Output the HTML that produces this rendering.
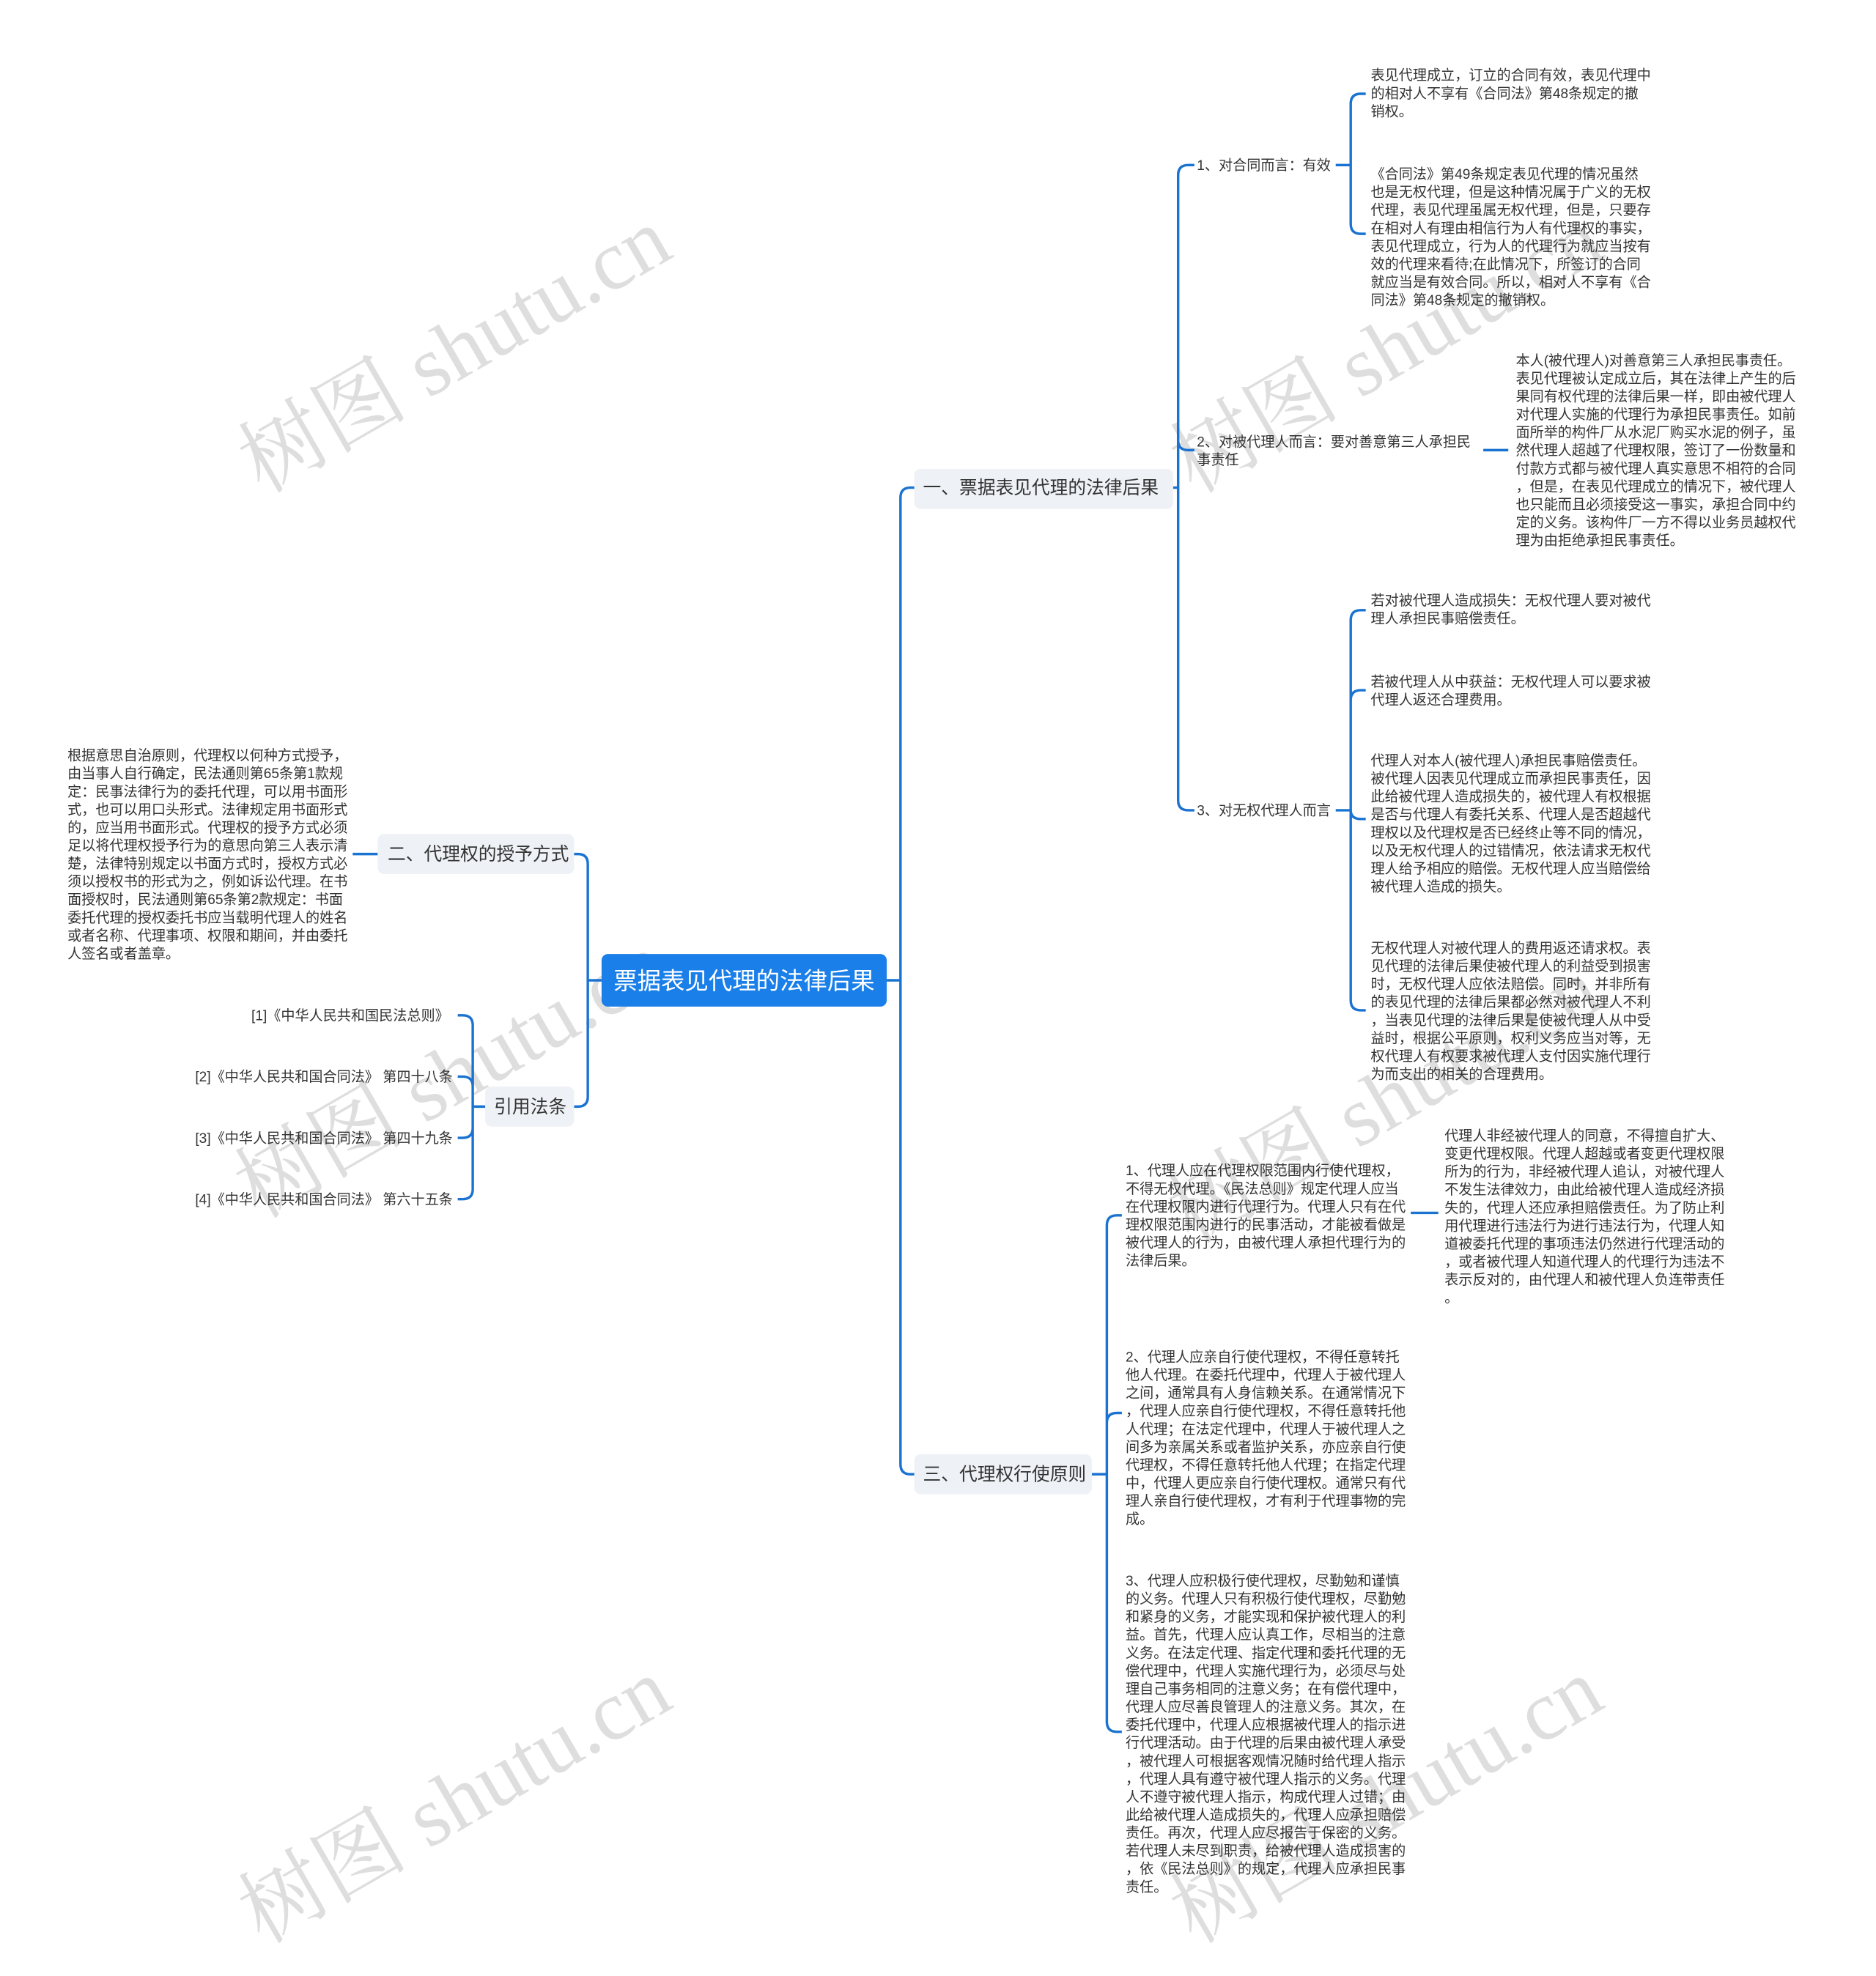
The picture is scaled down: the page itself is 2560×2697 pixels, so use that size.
<!DOCTYPE html>
<html><head><meta charset="utf-8"><style>
html,body{margin:0;padding:0;background:#fff;}
svg{display:block;}
text{font-family:"Liberation Sans","Noto Sans CJK SC",sans-serif;fill:#333;}
.l{font-size:11.2px;}
.wm{font-family:"Liberation Serif","Noto Serif CJK SC",serif;font-size:68px;fill:#d4d4d4;opacity:.75;}
path{fill:none;stroke:#1a73d1;stroke-width:2;}
</style></head><body>
<svg width="2560" height="2697" viewBox="0 0 1500 1580.3" preserveAspectRatio="none" xmlns="http://www.w3.org/2000/svg">
<rect width="1500" height="1581" fill="#fff"/>
<g>
<text class="wm" transform="translate(375,300) rotate(-30)" text-anchor="middle">树图 shutu.cn</text>
<text class="wm" transform="translate(1120,300) rotate(-30)" text-anchor="middle">树图 shutu.cn</text>
<text class="wm" transform="translate(372,880) rotate(-30)" text-anchor="middle">树图 shutu.cn</text>
<text class="wm" transform="translate(1118,900) rotate(-30)" text-anchor="middle">树图 shutu.cn</text>
<text class="wm" transform="translate(375,1460) rotate(-30)" text-anchor="middle">树图 shutu.cn</text>
<text class="wm" transform="translate(1120,1460) rotate(-30)" text-anchor="middle">树图 shutu.cn</text>
</g>
<path d="M709,784 H720 M720,784 V398 Q720,390 728,390 H737 M720,784 V1171 Q720,1179 728,1179 H737"/>
<path d="M481,784 H470 M470,784 V691 Q470,683 462,683 H459 M470,784 V877 Q470,885 462,885 H459"/>
<path d="M938,390 H942 M942,390 V140 Q942,132 950,132 H955 M942,390 V352 Q942,360 950,360 H955 M942,390 V640 Q942,648 950,648 H955"/>
<path d="M1068,132 H1080 M1080,132 V83 Q1080,75 1088,75 H1092 M1080,132 V179 Q1080,187 1088,187 H1092"/>
<path d="M1186,360 H1206"/>
<path d="M1068,648 H1080 M1080,648 V496 Q1080,488 1088,488 H1092 M1080,648 V560 Q1080,552 1088,552 H1092 M1080,648 Q1080,655 1088,655 H1092 M1080,648 V800 Q1080,808 1088,808 H1092"/>
<path d="M873,1179 H885 M885,1179 V980 Q885,972 893,972 H897 M885,1179 V1138 Q885,1130 893,1130 H897 M885,1179 V1377 Q885,1385 893,1385 H897"/>
<path d="M1128,970 H1150"/>
<path d="M302,683 H282"/>
<path d="M388,885 H378 M378,885 V820 Q378,812 370,812 H366 M378,885 V869 Q378,861 370,861 H366 M378,885 V902 Q378,910 370,910 H366 M378,885 V951 Q378,959 370,959 H366"/>
<rect x="481" y="763" width="228" height="42" rx="5" fill="#1a7fe8"/>
<text x="595" y="791" text-anchor="middle" style="font-size:19px;fill:#fff">票据表见代理的法律后果</text>
<rect x="731" y="375" width="207" height="32" rx="5" fill="#eef1f5"/>
<text x="738" y="395" style="font-size:14.5px">一、票据表见代理的法律后果</text>
<rect x="731" y="1163" width="142" height="32" rx="5" fill="#eef1f5"/>
<text x="738" y="1184" style="font-size:14.5px">三、代理权行使原则</text>
<rect x="302" y="667" width="157" height="32" rx="5" fill="#eef1f5"/>
<text x="310" y="688" style="font-size:14.5px">二、代理权的授予方式</text>
<rect x="388" y="869" width="71" height="32" rx="5" fill="#eef1f5"/>
<text x="395" y="890" style="font-size:14.5px">引用法条</text>
<text class="l" x="957" y="136">1、对合同而言：有效</text>
<text class="l" x="957" y="357">2、对被代理人而言：要对善意第三人承担民<tspan x="957" dy="14.4">事责任</tspan></text>
<text class="l" x="957" y="652">3、对无权代理人而言</text>
<text class="l" x="1096" y="64">表见代理成立，订立的合同有效，表见代理中<tspan x="1096" dy="14.4">的相对人不享有《合同法》第48条规定的撤</tspan><tspan x="1096" dy="14.4">销权。</tspan></text>
<text class="l" x="1096" y="143">《合同法》第49条规定表见代理的情况虽然<tspan x="1096" dy="14.4">也是无权代理，但是这种情况属于广义的无权</tspan><tspan x="1096" dy="14.4">代理，表见代理虽属无权代理，但是，只要存</tspan><tspan x="1096" dy="14.4">在相对人有理由相信行为人有代理权的事实，</tspan><tspan x="1096" dy="14.4">表见代理成立，行为人的代理行为就应当按有</tspan><tspan x="1096" dy="14.4">效的代理来看待;在此情况下，所签订的合同</tspan><tspan x="1096" dy="14.4">就应当是有效合同。所以，相对人不享有《合</tspan><tspan x="1096" dy="14.4">同法》第48条规定的撤销权。</tspan></text>
<text class="l" x="1212" y="292">本人(被代理人)对善意第三人承担民事责任。<tspan x="1212" dy="14.4">表见代理被认定成立后，其在法律上产生的后</tspan><tspan x="1212" dy="14.4">果同有权代理的法律后果一样，即由被代理人</tspan><tspan x="1212" dy="14.4">对代理人实施的代理行为承担民事责任。如前</tspan><tspan x="1212" dy="14.4">面所举的构件厂从水泥厂购买水泥的例子，虽</tspan><tspan x="1212" dy="14.4">然代理人超越了代理权限，签订了一份数量和</tspan><tspan x="1212" dy="14.4">付款方式都与被代理人真实意思不相符的合同</tspan><tspan x="1212" dy="14.4">，但是，在表见代理成立的情况下，被代理人</tspan><tspan x="1212" dy="14.4">也只能而且必须接受这一事实，承担合同中约</tspan><tspan x="1212" dy="14.4">定的义务。该构件厂一方不得以业务员越权代</tspan><tspan x="1212" dy="14.4">理为由拒绝承担民事责任。</tspan></text>
<text class="l" x="1096" y="484">若对被代理人造成损失：无权代理人要对被代<tspan x="1096" dy="14.4">理人承担民事赔偿责任。</tspan></text>
<text class="l" x="1096" y="549">若被代理人从中获益：无权代理人可以要求被<tspan x="1096" dy="14.4">代理人返还合理费用。</tspan></text>
<text class="l" x="1096" y="612">代理人对本人(被代理人)承担民事赔偿责任。<tspan x="1096" dy="14.4">被代理人因表见代理成立而承担民事责任，因</tspan><tspan x="1096" dy="14.4">此给被代理人造成损失的，被代理人有权根据</tspan><tspan x="1096" dy="14.4">是否与代理人有委托关系、代理人是否超越代</tspan><tspan x="1096" dy="14.4">理权以及代理权是否已经终止等不同的情况，</tspan><tspan x="1096" dy="14.4">以及无权代理人的过错情况，依法请求无权代</tspan><tspan x="1096" dy="14.4">理人给予相应的赔偿。无权代理人应当赔偿给</tspan><tspan x="1096" dy="14.4">被代理人造成的损失。</tspan></text>
<text class="l" x="1096" y="762">无权代理人对被代理人的费用返还请求权。表<tspan x="1096" dy="14.4">见代理的法律后果使被代理人的利益受到损害</tspan><tspan x="1096" dy="14.4">时，无权代理人应依法赔偿。同时，并非所有</tspan><tspan x="1096" dy="14.4">的表见代理的法律后果都必然对被代理人不利</tspan><tspan x="1096" dy="14.4">，当表见代理的法律后果是使被代理人从中受</tspan><tspan x="1096" dy="14.4">益时，根据公平原则，权利义务应当对等，无</tspan><tspan x="1096" dy="14.4">权代理人有权要求被代理人支付因实施代理行</tspan><tspan x="1096" dy="14.4">为而支出的相关的合理费用。</tspan></text>
<text class="l" x="900" y="940">1、代理人应在代理权限范围内行使代理权，<tspan x="900" dy="14.4">不得无权代理。《民法总则》规定代理人应当</tspan><tspan x="900" dy="14.4">在代理权限内进行代理行为。代理人只有在代</tspan><tspan x="900" dy="14.4">理权限范围内进行的民事活动，才能被看做是</tspan><tspan x="900" dy="14.4">被代理人的行为，由被代理人承担代理行为的</tspan><tspan x="900" dy="14.4">法律后果。</tspan></text>
<text class="l" x="1155" y="912">代理人非经被代理人的同意，不得擅自扩大、<tspan x="1155" dy="14.4">变更代理权限。代理人超越或者变更代理权限</tspan><tspan x="1155" dy="14.4">所为的行为，非经被代理人追认，对被代理人</tspan><tspan x="1155" dy="14.4">不发生法律效力，由此给被代理人造成经济损</tspan><tspan x="1155" dy="14.4">失的，代理人还应承担赔偿责任。为了防止利</tspan><tspan x="1155" dy="14.4">用代理进行违法行为进行违法行为，代理人知</tspan><tspan x="1155" dy="14.4">道被委托代理的事项违法仍然进行代理活动的</tspan><tspan x="1155" dy="14.4">，或者被代理人知道代理人的代理行为违法不</tspan><tspan x="1155" dy="14.4">表示反对的，由代理人和被代理人负连带责任</tspan><tspan x="1155" dy="14.4">。</tspan></text>
<text class="l" x="900" y="1089">2、代理人应亲自行使代理权，不得任意转托<tspan x="900" dy="14.4">他人代理。在委托代理中，代理人于被代理人</tspan><tspan x="900" dy="14.4">之间，通常具有人身信赖关系。在通常情况下</tspan><tspan x="900" dy="14.4">，代理人应亲自行使代理权，不得任意转托他</tspan><tspan x="900" dy="14.4">人代理；在法定代理中，代理人于被代理人之</tspan><tspan x="900" dy="14.4">间多为亲属关系或者监护关系，亦应亲自行使</tspan><tspan x="900" dy="14.4">代理权，不得任意转托他人代理；在指定代理</tspan><tspan x="900" dy="14.4">中，代理人更应亲自行使代理权。通常只有代</tspan><tspan x="900" dy="14.4">理人亲自行使代理权，才有利于代理事物的完</tspan><tspan x="900" dy="14.4">成。</tspan></text>
<text class="l" x="900" y="1268">3、代理人应积极行使代理权，尽勤勉和谨慎<tspan x="900" dy="14.4">的义务。代理人只有积极行使代理权，尽勤勉</tspan><tspan x="900" dy="14.4">和紧身的义务，才能实现和保护被代理人的利</tspan><tspan x="900" dy="14.4">益。首先，代理人应认真工作，尽相当的注意</tspan><tspan x="900" dy="14.4">义务。在法定代理、指定代理和委托代理的无</tspan><tspan x="900" dy="14.4">偿代理中，代理人实施代理行为，必须尽与处</tspan><tspan x="900" dy="14.4">理自己事务相同的注意义务；在有偿代理中，</tspan><tspan x="900" dy="14.4">代理人应尽善良管理人的注意义务。其次，在</tspan><tspan x="900" dy="14.4">委托代理中，代理人应根据被代理人的指示进</tspan><tspan x="900" dy="14.4">行代理活动。由于代理的后果由被代理人承受</tspan><tspan x="900" dy="14.4">，被代理人可根据客观情况随时给代理人指示</tspan><tspan x="900" dy="14.4">，代理人具有遵守被代理人指示的义务。代理</tspan><tspan x="900" dy="14.4">人不遵守被代理人指示，构成代理人过错；由</tspan><tspan x="900" dy="14.4">此给被代理人造成损失的，代理人应承担赔偿</tspan><tspan x="900" dy="14.4">责任。再次，代理人应尽报告于保密的义务。</tspan><tspan x="900" dy="14.4">若代理人未尽到职责，给被代理人造成损害的</tspan><tspan x="900" dy="14.4">，依《民法总则》的规定，代理人应承担民事</tspan><tspan x="900" dy="14.4">责任。</tspan></text>
<text class="l" x="54" y="608">根据意思自治原则，代理权以何种方式授予，<tspan x="54" dy="14.4">由当事人自行确定，民法通则第65条第1款规</tspan><tspan x="54" dy="14.4">定：民事法律行为的委托代理，可以用书面形</tspan><tspan x="54" dy="14.4">式，也可以用口头形式。法律规定用书面形式</tspan><tspan x="54" dy="14.4">的，应当用书面形式。代理权的授予方式必须</tspan><tspan x="54" dy="14.4">足以将代理权授予行为的意思向第三人表示清</tspan><tspan x="54" dy="14.4">楚，法律特别规定以书面方式时，授权方式必</tspan><tspan x="54" dy="14.4">须以授权书的形式为之，例如诉讼代理。在书</tspan><tspan x="54" dy="14.4">面授权时，民法通则第65条第2款规定：书面</tspan><tspan x="54" dy="14.4">委托代理的授权委托书应当载明代理人的姓名</tspan><tspan x="54" dy="14.4">或者名称、代理事项、权限和期间，并由委托</tspan><tspan x="54" dy="14.4">人签名或者盖章。</tspan></text>
<text class="l" x="359" y="816" text-anchor="end">[1]《中华人民共和国民法总则》</text>
<text class="l" x="362" y="865" text-anchor="end">[2]《中华人民共和国合同法》 第四十八条</text>
<text class="l" x="362" y="914" text-anchor="end">[3]《中华人民共和国合同法》 第四十九条</text>
<text class="l" x="362" y="963" text-anchor="end">[4]《中华人民共和国合同法》 第六十五条</text>
</svg>
</body></html>
